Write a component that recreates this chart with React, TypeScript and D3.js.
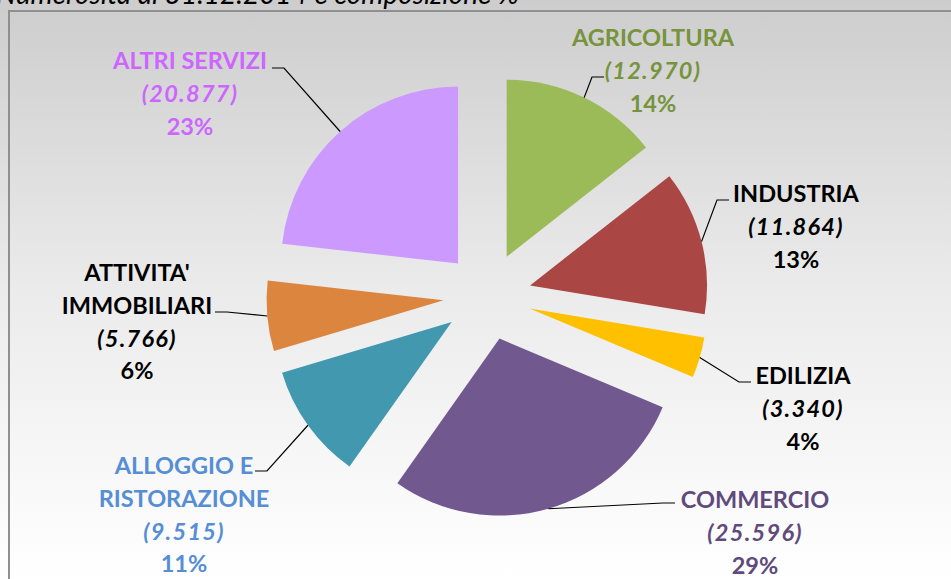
import { useEffect, useRef } from 'react';
import * as d3 from 'd3';

// data
const categories = ['AGRICOLTURA', 'INDUSTRIA', 'EDILIZIA', 'COMMERCIO', 'ALLOGGIO E RISTORAZIONE', "ATTIVITA' IMMOBILIARI", 'ALTRI SERVIZI'];
const values = [12970, 11864, 3340, 25596, 9515, 5766, 20877];
const percentLabels = ['14%', '13%', '4%', '29%', '11%', '6%', '23%'];
const sliceColors = ['#9bbb59', '#aa4644', '#ffc000', '#71588f', '#4198af', '#dc853f', '#cc99ff'];
const labelColors = ['#77933c', '#000000', '#000000', '#604a7b', '#558ed5', '#000000', '#cc66ff'];

// label layout (text block centre, first baseline, line breaks, leader end)
const labelLines = [['AGRICOLTURA'], ['INDUSTRIA'], ['EDILIZIA'], ['COMMERCIO'], ['ALLOGGIO E', 'RISTORAZIONE'], ["ATTIVITA'", 'IMMOBILIARI'], ['ALTRI SERVIZI']];
const labelPos = [
  { x: 653, y: 46, ex: 604, ey: 77 },
  { x: 796, y: 202, ex: 729, ey: 200 },
  { x: 803, y: 384, ex: 751, ey: 382 },
  { x: 755, y: 508, ex: 675, ey: 503 },
  { x: 184, y: 474, ex: 255, ey: 471 },
  { x: 137, y: 281, ex: 215, ey: 312 },
  { x: 190, y: 69, ex: 272, ey: 68 },
];

const W = 951;
const H = 579;

const App = () => {
  const ref = useRef<SVGSVGElement>(null);

  useEffect(() => {
    const svg = d3.select(ref.current);
    svg.selectAll('*').remove();

    const defs = svg.append('defs');
    const grad = defs.append('linearGradient')
      .attr('id', 'bg')
      .attr('x1', 0).attr('y1', 0).attr('x2', 0).attr('y2', 1);
    grad.append('stop').attr('offset', 0).attr('stop-color', '#cdcdcd');
    grad.append('stop').attr('offset', 0.5).attr('stop-color', '#ebebeb');
    grad.append('stop').attr('offset', 1).attr('stop-color', '#ffffff');

    svg.append('rect')
      .attr('width', W).attr('height', H)
      .attr('fill', 'url(#bg)');

    // title, cut off at the top as in the reference
    svg.append('text')
      .attr('x', -4).attr('y', 4)
      .attr('font-family', 'Lato')
      .attr('font-style', 'italic')
      .attr('font-size', 28)
      .attr('fill', '#000')
      .text('Numerosità al 31.12.2014 e composizione %');

    svg.append('rect')
      .attr('x', 9).attr('y', 11)
      .attr('width', W + 20).attr('height', H + 20)
      .attr('fill', 'none')
      .attr('stroke', '#8f8f8f')
      .attr('stroke-width', 2);

    const cx = 487.4;
    const cy = 296.3;
    const radius = 177;
    const explode = 44;

    const pie = d3.pie<number>().sort(null).value(d => d);
    const arcs = pie(values);
    const arc = d3.arc<d3.PieArcDatum<number>>().innerRadius(0).outerRadius(radius);

    const chart = svg.append('g').attr('transform', `translate(${cx}, ${cy})`);

    const mid = (d: d3.PieArcDatum<number>) => (d.startAngle + d.endAngle) / 2;

    chart.selectAll('path.slice')
      .data(arcs)
      .enter()
      .append('path')
      .attr('class', 'slice')
      .attr('d', arc)
      .attr('fill', (d, i) => sliceColors[i])
      .attr('transform', d => {
        const a = mid(d);
        return `translate(${explode * Math.sin(a)}, ${-explode * Math.cos(a)})`;
      });

    const fmt = d3.formatLocale({ decimal: ',', thousands: '.', grouping: [3], currency: ['€', ''] }).format(',d');

    // leader lines
    arcs.forEach((d, i) => {
      const a = mid(d);
      const sx = cx + (explode + radius) * Math.sin(a);
      const sy = cy - (explode + radius) * Math.cos(a);
      const p = labelPos[i];
      const elbowX = p.ex + (p.ex > sx ? -12 : 12);
      svg.append('polyline')
        .attr('points', `${sx},${sy} ${elbowX},${p.ey} ${p.ex},${p.ey}`)
        .attr('fill', 'none')
        .attr('stroke', '#000')
        .attr('stroke-width', 1.2);
    });

    // labels
    categories.forEach((c, i) => {
      const p = labelPos[i];
      const lines = [
        ...labelLines[i].map(t => ({ t, italic: false })),
        { t: `(${fmt(values[i])})`, italic: true },
        { t: percentLabels[i], italic: false },
      ];
      const txt = svg.append('text')
        .attr('font-family', 'Lato')
        .attr('font-weight', 'bold')
        .attr('font-size', 23.5)
        .attr('text-anchor', 'middle')
        .attr('fill', labelColors[i]);
      lines.forEach((l, k) => {
        txt.append('tspan')
          .attr('x', p.x)
          .attr('y', p.y + k * 32.8)
          .attr('font-style', l.italic ? 'italic' : 'normal')
          .attr('letter-spacing', l.italic ? 1.3 : 0)
          .text(l.t);
      });
    });
  }, []);

  return (
    <svg
      ref={ref}
      width={W}
      height={H}
      style={{ position: 'absolute', left: 0, top: 0, display: 'block' }}
    ></svg>
  );
};

export default App;
